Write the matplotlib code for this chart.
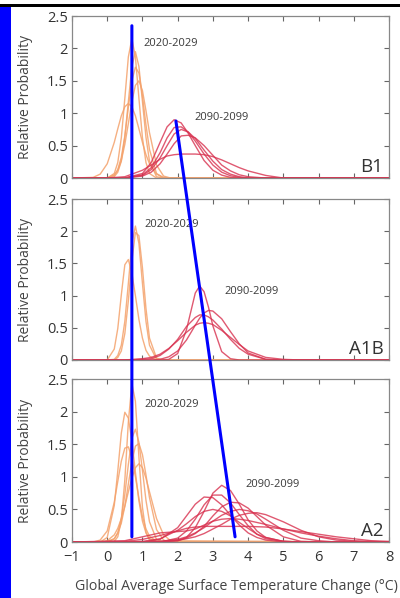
import matplotlib
matplotlib.use('Agg')
import matplotlib.pyplot as plt
from matplotlib.patches import Rectangle, ConnectionPatch

plt.rcParams['font.family'] = ['Open Sans', 'DejaVu Sans']

# shared x positions for the 2020-2029 curves
near_x = [-1, -0.4, -0.2, 0.0, 0.2, 0.3, 0.4, 0.5, 0.6, 0.7, 0.8, 0.9, 1.0, 1.1, 1.2, 1.4, 1.6, 1.8, 8.0]

b1_near = [
    [0, 0, 0, 0.0, 0.07, 0.24, 0.62, 1.23, 1.87, 2.15, 1.87, 1.23, 0.62, 0.24, 0.07, 0, 0, 0, 0],
    [0, 0, 0, 0, 0.02, 0.09, 0.26, 0.63, 1.18, 1.72, 1.95, 1.72, 1.18, 0.63, 0.26, 0.02, 0, 0, 0],
    [0, 0, 0, 0, 0.04, 0.13, 0.32, 0.65, 1.09, 1.50, 1.71, 1.62, 1.27, 0.82, 0.44, 0.07, 0, 0, 0],
    [0, 0, 0, 0.0, 0.05, 0.12, 0.27, 0.52, 0.84, 1.18, 1.43, 1.50, 1.35, 1.04, 0.70, 0.20, 0.03, 0, 0],
    [0, 0.01, 0.06, 0.22, 0.55, 0.76, 0.96, 1.10, 1.15, 1.10, 0.96, 0.76, 0.55, 0.36, 0.22, 0.06, 0.01, 0, 0],
]
a1b_near = [
    [0, 0, 0, 0, 0.01, 0.07, 0.23, 0.60, 1.19, 1.81, 2.08, 1.81, 1.19, 0.60, 0.23, 0.01, 0, 0, 0],
    [0, 0, 0, 0, 0.0, 0.04, 0.14, 0.41, 0.92, 1.54, 1.98, 1.93, 1.43, 0.80, 0.34, 0.03, 0, 0, 0],
    [0, 0, 0, 0, 0.17, 0.49, 1.01, 1.48, 1.56, 1.35, 1.00, 0.63, 0.34, 0.15, 0.06, 0, 0, 0, 0],
]
a2_near = [
    [0, 0, 0, 0, 0.01, 0.08, 0.33, 0.95, 1.84, 2.43, 2.16, 1.30, 0.53, 0.15, 0.03, 0, 0, 0, 0],
    [0, 0, 0, 0.07, 0.56, 1.09, 1.67, 1.99, 1.90, 1.55, 1.07, 0.63, 0.32, 0.14, 0.05, 0, 0, 0, 0],
    [0, 0, 0, 0, 0.05, 0.14, 0.36, 0.73, 1.19, 1.59, 1.73, 1.53, 1.10, 0.64, 0.31, 0.04, 0, 0, 0],
    [0, 0, 0, 0.01, 0.05, 0.14, 0.29, 0.55, 0.89, 1.23, 1.47, 1.51, 1.34, 1.03, 0.68, 0.19, 0.03, 0, 0],
    [0, 0, 0.03, 0.17, 0.61, 0.93, 1.24, 1.44, 1.46, 1.29, 1.00, 0.67, 0.39, 0.20, 0.09, 0.01, 0, 0, 0],
    [0, 0, 0, 0.02, 0.11, 0.21, 0.36, 0.55, 0.77, 0.98, 1.14, 1.20, 1.14, 0.98, 0.77, 0.36, 0.11, 0.02, 0],
]

# 2090-2099 curves, one x list per scenario
b1_far_x = [-1, 0.0, 0.5, 1.0, 1.25, 1.5, 1.7, 1.9, 2.1, 2.3, 2.5, 2.75, 3.0, 3.25, 3.5, 3.75, 4.0, 4.5, 5.0, 8.0]
b1_far = [
    [0, 0, 0.0, 0.07, 0.24, 0.55, 0.79, 0.90, 0.85, 0.69, 0.50, 0.27, 0.12, 0.045, 0.01, 0, 0, 0, 0, 0],
    [0, 0, 0.0, 0.05, 0.16, 0.39, 0.62, 0.78, 0.79, 0.71, 0.57, 0.37, 0.20, 0.09, 0.035, 0.01, 0, 0, 0, 0],
    [0, 0, 0.0, 0.04, 0.13, 0.31, 0.50, 0.68, 0.75, 0.71, 0.61, 0.43, 0.26, 0.13, 0.06, 0.02, 0, 0, 0, 0],
    [0, 0, 0.0, 0.03, 0.09, 0.22, 0.37, 0.53, 0.65, 0.66, 0.62, 0.50, 0.35, 0.20, 0.11, 0.05, 0.02, 0, 0, 0],
    [0, 0.0, 0.02, 0.12, 0.20, 0.29, 0.34, 0.36, 0.37, 0.37, 0.37, 0.36, 0.33, 0.28, 0.22, 0.16, 0.11, 0.04, 0.0, 0],
]
a1b_far_x = [-1, 0.5, 1.0, 1.25, 1.5, 1.75, 2.0, 2.25, 2.5, 2.625, 2.75, 2.875, 3.0, 3.25, 3.5, 3.75, 4.0, 4.5, 5.0, 5.5, 8.0]
a1b_far = [
    [0, 0, 0, 0, 0, 0.01, 0.10, 0.47, 1.04, 1.15, 1.06, 0.82, 0.53, 0.13, 0.02, 0, 0, 0, 0, 0, 0],
    [0, 0, 0, 0.0, 0.01, 0.05, 0.14, 0.31, 0.54, 0.65, 0.73, 0.77, 0.76, 0.64, 0.44, 0.25, 0.11, 0.01, 0, 0, 0],
    [0, 0, 0.01, 0.02, 0.07, 0.17, 0.32, 0.52, 0.66, 0.70, 0.70, 0.67, 0.62, 0.48, 0.32, 0.18, 0.09, 0.01, 0, 0, 0],
    [0, 0, 0.02, 0.04, 0.09, 0.18, 0.30, 0.43, 0.54, 0.57, 0.58, 0.57, 0.55, 0.46, 0.35, 0.24, 0.14, 0.04, 0.01, 0, 0],
]
a2_far_x = [-1, 0.5, 1.0, 1.5, 2.0, 2.25, 2.5, 2.75, 3.0, 3.25, 3.5, 3.75, 4.0, 4.25, 4.5, 5.0, 5.5, 6.0, 6.5, 7.0, 7.5, 8.0]
a2_far = [
    [0, 0, 0, 0, 0.02, 0.07, 0.22, 0.47, 0.75, 0.87, 0.79, 0.58, 0.34, 0.17, 0.07, 0.01, 0, 0, 0, 0, 0, 0],
    [0, 0, 0, 0.0, 0.06, 0.17, 0.35, 0.57, 0.72, 0.72, 0.60, 0.42, 0.25, 0.12, 0.05, 0.01, 0, 0, 0, 0, 0, 0],
    [0, 0, 0, 0.04, 0.22, 0.40, 0.58, 0.69, 0.68, 0.57, 0.41, 0.26, 0.14, 0.07, 0.03, 0, 0, 0, 0, 0, 0, 0],
    [0, 0, 0, 0, 0.02, 0.06, 0.13, 0.24, 0.40, 0.54, 0.61, 0.60, 0.52, 0.39, 0.26, 0.08, 0.01, 0, 0, 0, 0, 0],
    [0, 0, 0.01, 0.05, 0.18, 0.28, 0.39, 0.47, 0.50, 0.47, 0.40, 0.30, 0.21, 0.12, 0.07, 0.01, 0, 0, 0, 0, 0, 0],
    [0, 0, 0, 0.01, 0.04, 0.08, 0.14, 0.22, 0.32, 0.41, 0.47, 0.50, 0.48, 0.43, 0.35, 0.18, 0.06, 0.02, 0, 0, 0, 0],
    [0, 0, 0, 0.01, 0.03, 0.05, 0.08, 0.13, 0.20, 0.27, 0.35, 0.41, 0.44, 0.45, 0.42, 0.31, 0.18, 0.08, 0.03, 0.01, 0, 0],
    [0, 0.01, 0.04, 0.10, 0.17, 0.21, 0.23, 0.24, 0.24, 0.24, 0.24, 0.24, 0.24, 0.235, 0.23, 0.20, 0.16, 0.12, 0.08, 0.05, 0.02, 0.01],
    [0, 0.02, 0.08, 0.14, 0.16, 0.17, 0.20, 0.26, 0.32, 0.35, 0.36, 0.35, 0.33, 0.30, 0.27, 0.20, 0.14, 0.09, 0.05, 0.02, 0.01, 0],
]

scenarios = ['B1', 'A1B', 'A2']
near_sets = [b1_near, a1b_near, a2_near]
far_xs = [b1_far_x, a1b_far_x, a2_far_x]
far_sets = [b1_far, a1b_far, a2_far]
near_label_pos = [(1.02, 2.07), (1.05, 2.11), (1.05, 2.11)]
far_label_pos = [(2.49, 0.94), (3.32, 1.06), (3.91, 0.885)]

xticks = [-1, 0, 1, 2, 3, 4, 5, 6, 7, 8]
yticks = [0, 0.5, 1, 1.5, 2, 2.5]
ytick_labels = ['0', '0.5', '1', '1.5', '2', '2.5']

# hand-drawn blue guide lines (top point in B1, bottom point in A2)
guide_top = [(0.70, 2.35), (1.95, 0.88)]
guide_bottom = [(0.70, 0.08), (3.63, 0.08)]

orange = '#F4A26C'
red = '#D8304E'

fig = plt.figure(figsize=(4.0, 5.98), dpi=100)

# axes boxes in figure fractions (left, bottom, width, height)
boxes = [(0.18, 0.7023, 0.7925, 0.2709),
         (0.18, 0.3980, 0.7925, 0.2692),
         (0.18, 0.0936, 0.7925, 0.2726)]

axes = []
for i, name in enumerate(scenarios):
    ax = fig.add_axes(boxes[i])
    axes.append(ax)
    for ys in near_sets[i]:
        ax.plot(near_x, ys, color=orange, lw=1.0, alpha=0.85)
    for ys in far_sets[i]:
        ax.plot(far_xs[i], ys, color=red, lw=1.0, alpha=0.8)

    ax.set_xlim(-1, 8)
    ax.set_ylim(0, 2.5)
    ax.set_xticks(xticks)
    ax.set_yticks(yticks)
    ax.set_yticklabels(ytick_labels)
    ax.tick_params(direction='in', top=True, right=True, length=3.5,
                   width=0.8, color='#666666', labelsize=10.5,
                   labelcolor='#333333', pad=3)
    ax.tick_params(axis='x', pad=6)
    if i < 2:
        ax.tick_params(labelbottom=False)
    for s in ax.spines.values():
        s.set_color('#888888')
        s.set_linewidth(0.9)

    ax.set_ylabel('Relative Probability', fontsize=10, color='#444444')
    ax.yaxis.set_label_coords(-0.122, 0.5)

    ax.text(*near_label_pos[i], '2020-2029', fontsize=8, color='#3a3a3a',
            ha='left', va='center')
    ax.text(*far_label_pos[i], '2090-2099', fontsize=8, color='#3a3a3a',
            ha='left', va='center')
    ax.text(0.982, 0.04, name, transform=ax.transAxes, fontsize=13.5,
            color='#333333', ha='right', va='baseline')

fig.text(75 / 400, 1 - 587 / 598,
         'Global Average Surface Temperature Change (\u00b0C)',
         fontsize=10.2, color='#444444', ha='left', va='center')

# blue guide lines spanning the three panels
for a, b in zip(guide_top, guide_bottom):
    con = ConnectionPatch(xyA=a, coordsA=axes[0].transData,
                          xyB=b, coordsB=axes[2].transData,
                          color='#0000FF', lw=2.2, zorder=10)
    fig.add_artist(con)

# left blue bar and black rule at the top
fig.add_artist(Rectangle((0, 0), 11 / 400, 1 - 7 / 598,
                         transform=fig.transFigure, color='#0000FF', lw=0))
fig.add_artist(Rectangle((0, 1 - 7 / 598), 1, 3 / 598,
                         transform=fig.transFigure, color='black', lw=0))

fig.savefig('out.png', dpi=100)
